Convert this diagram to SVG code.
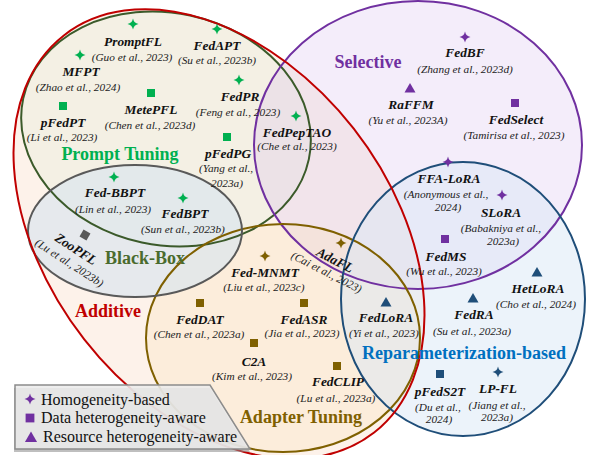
<svg xmlns="http://www.w3.org/2000/svg" xmlns:xlink="http://www.w3.org/1999/xlink" width="589" height="455" viewBox="0 0 589 455">
<defs>
<style>
text{font-family:"Liberation Serif","Times New Roman",serif;}
.n{font-weight:bold;font-style:italic;font-size:13.4px;text-anchor:middle;fill:#111;}
.c{font-style:italic;font-size:11.3px;text-anchor:middle;fill:#222;}
.cat{font-weight:bold;font-size:18px;text-anchor:middle;}
.leg{font-size:16px;fill:#111;}
.edge{fill:none;stroke-width:2;}
</style>
<path id="st" d="M0,-5.5 Q0.9,-0.9 5.5,0 Q0.9,0.9 0,5.5 Q-0.9,0.9 -5.5,0 Q-0.9,-0.9 0,-5.5Z"/>
<rect id="sq" x="-4" y="-4" width="8" height="8"/>
<path id="tr" d="M0,-5 L5.5,4.5 L-5.5,4.5Z"/>
</defs>
<rect width="589" height="455" fill="#ffffff"/>

<g id="regions">
<g id="fills">
<ellipse cx="0" cy="0" rx="252" ry="171" transform="translate(219,234) rotate(52)" fill="#f8cbad" fill-opacity="0.25"/>
<ellipse cx="0" cy="0" rx="146" ry="116" transform="translate(166,129) rotate(12)" fill="#e2efd9" fill-opacity="0.35"/>
<ellipse cx="418" cy="145" rx="164" ry="144" fill="#d9c2ee" fill-opacity="0.3"/>
<ellipse cx="283" cy="338" rx="137" ry="114" fill="#fbe0b0" fill-opacity="0.25"/>
<ellipse cx="463" cy="299" rx="122" ry="137" fill="#dae8f6" fill-opacity="0.5"/>
<ellipse cx="135" cy="231" rx="107" ry="66" fill="#dce6ee" fill-opacity="0.7"/>
</g>
<g id="outlines">
<ellipse class="edge" cx="0" cy="0" rx="146" ry="116" transform="translate(166,129) rotate(12)" stroke="#3b5a2a"/>
<ellipse class="edge" cx="418" cy="145" rx="164" ry="144" stroke="#7030a0"/>
<ellipse class="edge" cx="283" cy="338" rx="137" ry="114" stroke="#7f6000"/>
<ellipse class="edge" cx="463" cy="299" rx="122" ry="137" stroke="#1f4e79"/>
<ellipse class="edge" cx="135" cy="231" rx="107" ry="66" stroke="#595959"/>
<ellipse class="edge" cx="0" cy="0" rx="252" ry="171" transform="translate(219,234) rotate(52)" stroke="#c00000"/>
</g>
</g>

<g id="connectors"></g>

<g id="labels">
<text class="cat" x="120" y="160" fill="#00b050">Prompt Tuning</text>
<text class="cat" x="145" y="264" fill="#4a6b2e">Black-Box</text>
<text class="cat" x="108" y="317" fill="#c00000">Additive</text>
<text class="cat" x="368" y="68" fill="#7030a0">Selective</text>
<text class="cat" x="301" y="423" fill="#7f6000">Adapter Tuning</text>
<text class="cat" x="464" y="359" fill="#0070c0">Reparameterization-based</text>
</g>

<g id="PromptFL"><use href="#st" x="133" y="24" fill="#00b050"/><text class="n" x="133" y="46">PromptFL</text><text class="c" x="132" y="61">(Guo et al., 2023)</text></g>
<g id="MFPT"><use href="#st" x="80" y="55" fill="#00b050"/><text class="n" x="81" y="76">MFPT</text><text class="c" x="78" y="91">(Zhao et al., 2024)</text></g>
<g id="pFedPT"><use href="#sq" x="63" y="106" fill="#00b050"/><text class="n" x="63" y="127">pFedPT</text><text class="c" x="62" y="141">(Li et al., 2023)</text></g>
<g id="MetePFL"><use href="#sq" x="151" y="93" fill="#00b050"/><text class="n" x="151" y="114">MetePFL</text><text class="c" x="150" y="129">(Chen et al., 2023d)</text></g>
<g id="FedAPT"><use href="#st" x="217" y="29" fill="#00b050"/><text class="n" x="217" y="50">FedAPT</text><text class="c" x="217" y="64">(Su et al., 2023b)</text></g>
<g id="FedPR"><use href="#st" x="239" y="80" fill="#00b050"/><text class="n" x="240" y="101">FedPR</text><text class="c" x="238" y="116">(Feng et al., 2023)</text></g>
<g id="FedPepTAO"><use href="#st" x="296" y="116" fill="#00b050"/><text class="n" x="297" y="137">FedPepTAO</text><text class="c" x="297" y="150">(Che et al., 2023)</text></g>
<g id="pFedPG"><use href="#sq" x="227" y="137" fill="#00b050"/><text class="n" x="228" y="158">pFedPG</text><text class="c" x="226" y="172">(Yang et al.,</text><text class="c" x="227" y="187">2023a)</text></g>

<g id="Fed-BBPT"><use href="#st" x="114" y="177" fill="#00b050"/><text class="n" x="115" y="197">Fed-BBPT</text><text class="c" x="113" y="213">(Lin et al., 2023)</text></g>
<g id="FedBPT"><use href="#st" x="183" y="198" fill="#00b050"/><text class="n" x="185" y="218">FedBPT</text><text class="c" x="183" y="233">(Sun et al., 2023b)</text></g>
<g id="ZooPFL"><use href="#sq" transform="translate(85,235) rotate(30)" fill="#595959"/><g transform="translate(76,249) rotate(33)"><text class="n" x="0" y="4.5">ZooPFL</text><text class="c" x="2" y="19">(Lu et al., 2023b)</text></g></g>

<g id="FedBF"><use href="#st" x="465" y="37" fill="#7030a0"/><text class="n" x="465" y="57">FedBF</text><text class="c" x="465" y="73">(Zhang et al., 2023d)</text></g>
<g id="RaFFM"><use href="#tr" x="410" y="88" fill="#7030a0"/><text class="n" x="411" y="109">RaFFM</text><text class="c" x="408" y="124">(Yu et al., 2023A)</text></g>
<g id="FedSelect"><use href="#sq" x="515" y="103" fill="#7030a0"/><text class="n" x="516" y="124">FedSelect</text><text class="c" x="514" y="139">(Tamirisa et al., 2023)</text></g>
<g id="FFA-LoRA"><use href="#st" x="448" y="162" fill="#7030a0"/><text class="n" x="449" y="183">FFA-LoRA</text><text class="c" x="446" y="198">(Anonymous et al.,</text><text class="c" x="448" y="211">2024)</text></g>
<g id="SLoRA"><use href="#st" x="502" y="195" fill="#7030a0"/><text class="n" x="501" y="217">SLoRA</text><text class="c" x="501" y="232">(Babakniya et al.,</text><text class="c" x="503" y="245">2023a)</text></g>
<g id="FedMS"><use href="#sq" x="445" y="239" fill="#7030a0"/><text class="n" x="446" y="261">FedMS</text><text class="c" x="444" y="275">(Wu et al., 2023)</text></g>

<g id="Fed-MNMT"><use href="#st" x="265" y="256" fill="#7f6000"/><text class="n" x="265" y="277">Fed-MNMT</text><text class="c" x="264" y="291">(Liu et al., 2023c)</text></g>
<g id="AdaFL"><use href="#st" x="341" y="243" fill="#7f6000"/><g transform="translate(335,260) rotate(27)"><text class="n" x="0" y="4.5">AdaFL</text><text class="c" x="-2" y="18.5">(Cai et al., 2023)</text></g></g>
<g id="FedDAT"><use href="#sq" x="200" y="303" fill="#7f6000"/><text class="n" x="200" y="324">FedDAT</text><text class="c" x="199" y="338">(Chen et al., 2023a)</text></g>
<g id="FedASR"><use href="#sq" x="304" y="303" fill="#7f6000"/><text class="n" x="304" y="324">FedASR</text><text class="c" x="302" y="337">(Jia et al., 2023)</text></g>
<g id="C2A"><use href="#sq" x="254" y="343" fill="#7f6000"/><text class="n" x="254" y="366">C2A</text><text class="c" x="252" y="380">(Kim et al., 2023)</text></g>
<g id="FedCLIP"><use href="#sq" x="337" y="366" fill="#7f6000"/><text class="n" x="338" y="386">FedCLIP</text><text class="c" x="336" y="402">(Lu et al., 2023a)</text></g>

<g id="HetLoRA"><use href="#tr" x="537" y="272" fill="#1f4e79"/><text class="n" x="538" y="293">HetLoRA</text><text class="c" x="536" y="308">(Cho et al., 2024)</text></g>
<g id="FedRA"><use href="#tr" x="473" y="298" fill="#1f4e79"/><text class="n" x="474" y="319">FedRA</text><text class="c" x="472" y="335">(Su et al., 2023a)</text></g>
<g id="FedLoRA"><use href="#tr" x="386" y="302" fill="#1f4e79"/><text class="n" x="386" y="322">FedLoRA</text><text class="c" x="384" y="337">(Yi et al., 2023)</text></g>
<g id="pFedS2T"><use href="#sq" x="440" y="374" fill="#1f4e79"/><text class="n" x="440" y="396">pFedS2T</text><text class="c" x="438" y="411">(Du et al.,</text><text class="c" x="439" y="423">2024)</text></g>
<g id="LP-FL"><use href="#st" x="498" y="372" fill="#1f4e79"/><text class="n" x="498" y="393">LP-FL</text><text class="c" x="497" y="409">(Jiang et al.,</text><text class="c" x="497" y="421">2023a)</text></g>

<g id="legend">
<polygon points="14,388 210,388 250,452 14,452" fill="#8a8a8a" fill-opacity="0.55"/>
<polygon points="15,385 210,385 250,449 15,449" fill="#ececec" fill-opacity="0.88" stroke="#8c8c8c" stroke-width="1.5"/>
<use href="#st" x="30" y="399" fill="#7030a0"/>
<text class="leg" x="41" y="405">Homogeneity-based</text>
<use href="#sq" transform="translate(30,418) scale(1.1)" fill="#7030a0"/>
<text class="leg" x="41" y="423">Data heterogeneity-aware</text>
<use href="#tr" transform="translate(31,437) scale(1.1)" fill="#7030a0"/>
<text class="leg" x="43" y="442">Resource heterogeneity-aware</text>
</g>
</svg>
